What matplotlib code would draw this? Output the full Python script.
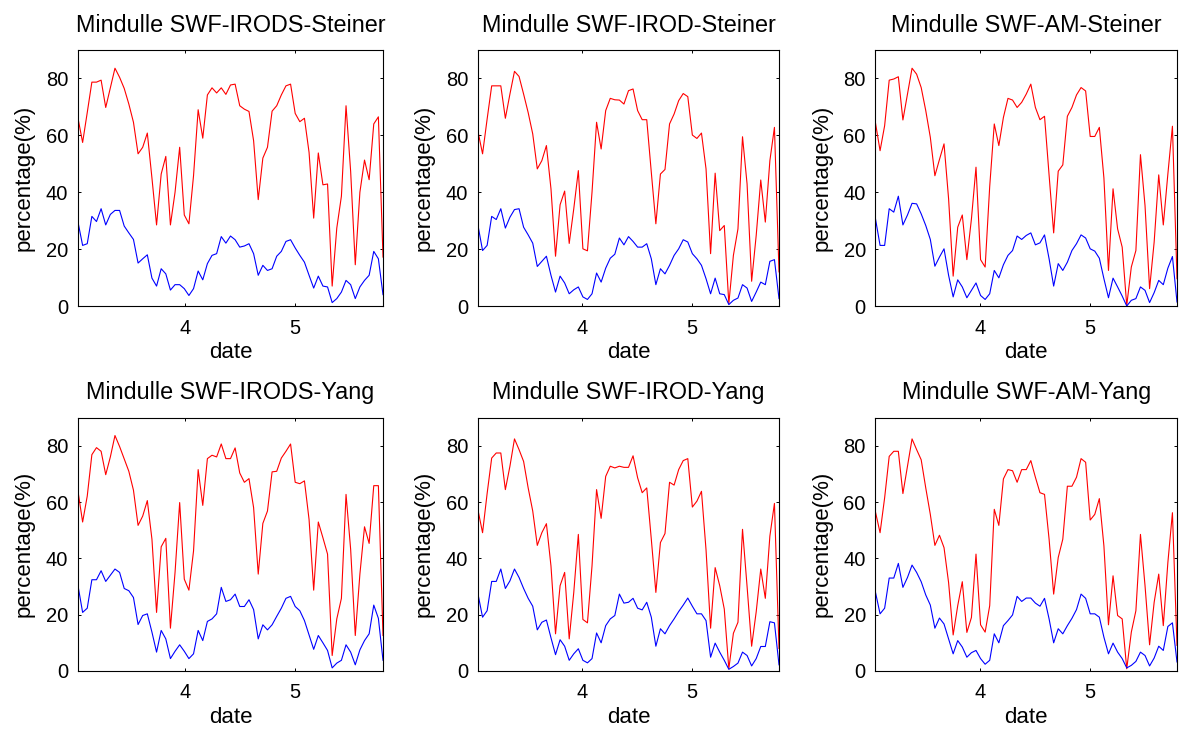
import numpy as np
import matplotlib
matplotlib.use("Agg")
import matplotlib.pyplot as plt

plt.rcParams['font.family'] = ['Liberation Sans', 'DejaVu Sans']

# Time span (days of month) covered by each column of panels
span_irods = (3.015, 5.810)
span_irod = (3.058, 5.791)
span_am = (3.055, 5.791)

titles = [
    "Mindulle SWF-IRODS-Steiner", "Mindulle SWF-IROD-Steiner", "Mindulle SWF-AM-Steiner",
    "Mindulle SWF-IRODS-Yang", "Mindulle SWF-IROD-Yang", "Mindulle SWF-AM-Yang",
]

# Percentage series (red = upper curve, blue = lower curve)
irods_steiner_red = [66, 57.5, 68, 78.7, 78.7, 79.4, 69.8, 76.7, 83.6, 80.4, 76.5, 71, 64.6, 53.5, 55.8,
                     60.8, 45, 28.5, 46.4, 52.6, 28.5, 40, 55.8, 32, 28.9, 45.8, 69, 59, 74.2, 76.7, 74.9,
                     76.7, 74.4, 77.7, 78, 70.4, 69.2, 68.4, 58.1, 37.4, 52, 55.8, 68.5, 70.4, 74.2, 77.4,
                     78, 67.7, 64.8, 66, 54, 30.9, 53.8, 42.6, 42.9, 7, 27.4, 38.6, 70.4, 47.3, 14.5, 40,
                     51.3, 44.4, 64, 66.5, 17.2]
irods_steiner_blue = [29.5, 21.3, 21.9, 31.5, 29.7, 34.2, 28.5, 32.2, 33.6, 33.6, 28.1, 25.7, 23.4, 15.1,
                      16.6, 18, 9.8, 7, 13.1, 11.3, 5.6, 7.5, 7.5, 6.1, 3.7, 6.1, 12.3, 9.2, 14.9, 17.8, 18.4,
                      24.4, 22.1, 24.6, 23.3, 20.7, 21.1, 21.9, 18.4, 10.8, 14.3, 12.5, 13.1, 17.5, 19.2,
                      22.7, 23.3, 20.4, 17.8, 15.4, 10.8, 6.3, 10.5, 7, 6.7, 1.2, 2.6, 4.9, 9, 7.5, 2.6,
                      6.7, 9, 10.8, 19.2, 16.6, 4]

irod_steiner_red = [61.3, 53.5, 65.7, 77.4, 77.4, 77.4, 66, 74.5, 82.5, 80.7, 74.5, 68, 60.5, 48.2, 51.1,
                    56.4, 41.2, 17.5, 35.6, 40.4, 22, 34.2, 47.6, 20.1, 19.4, 40, 64.6, 55.2, 68.7, 73,
                    72.5, 72.4, 71, 75.7, 76.3, 68.7, 65.5, 65.5, 47, 28.9, 46.4, 48, 64, 67.5, 72.2, 74.7,
                    73.6, 60.1, 58.9, 60.8, 48.2, 18.4, 46.7, 26.5, 28.3, 0.8, 17.8, 27.1, 59.5, 42.9, 8.7,
                    24.8, 44.3, 29.5, 51.1, 62.8, 12]
irod_steiner_blue = [28.3, 19.5, 21.3, 31.5, 30.4, 34.2, 27.4, 31.2, 33.9, 34.2, 27.7, 25, 22.1, 13.9,
                     15.7, 17.5, 10.8, 4.9, 10.5, 8.1, 4.3, 5.7, 6.7, 3.2, 2.3, 4.3, 11.6, 8.4, 13.3, 16.8,
                     18.2, 23.9, 21.5, 24.4, 22.7, 20.7, 20.7, 21.9, 16.6, 7.5, 13.1, 11.3, 14.3, 17.8,
                     20.1, 23.3, 22.5, 18.4, 16.6, 14.3, 9.6, 4.3, 9.8, 4.3, 4, 0.5, 2, 2.8, 7.5, 6.3,
                     1.6, 4.9, 8.4, 7.5, 15.7, 16.3, 2.6]

am_steiner_red = [64.3, 54.6, 63.4, 79.4, 79.8, 80.6, 65.4, 74.5, 83.6, 81.5, 76.8, 68.7, 59.3, 45.8, 51.5,
                  57, 37.7, 10.5, 27.7, 32, 16.3, 30.6, 48.8, 16.3, 13.7, 42, 64, 56.4, 66.3, 73, 72.4,
                  69.8, 71.6, 74.5, 78, 69.8, 65.5, 66.7, 46, 25.7, 47.4, 49.6, 66.7, 69.8, 74.2, 76.8,
                  75.6, 59.6, 59.6, 62.8, 45, 12.5, 41.2, 27.1, 20.7, 0.2, 13.7, 19.5, 53.2, 35.3, 6.1,
                  22.5, 46.1, 28.5, 46.4, 63.2, 9.6]
am_steiner_blue = [30.6, 21.3, 21.3, 34.2, 33, 38.6, 28.5, 32, 36.1, 35.9, 32.4, 28.3, 23.4, 14, 17.2,
                   20.1, 10.8, 3.2, 9.2, 6.7, 2.9, 5.5, 8.1, 3.7, 2.3, 4.3, 12.5, 9.9, 14.5, 17.8, 19.5,
                   24.6, 23.4, 24.8, 25.7, 21.5, 22.2, 25, 16.6, 7, 14.9, 12.5, 15.4, 19.5, 21.9, 25,
                   23.9, 20.1, 19.3, 16.8, 9.6, 2.9, 9.8, 6.7, 3.5, 0, 2, 2.6, 6.7, 5.5, 1.2, 4.7, 9,
                   7.5, 13.3, 17.4, 1.4]

irods_yang_red = [63.8, 52.9, 62.1, 76.8, 79.3, 78, 69.7, 76, 83.6, 79.7, 75.3, 70.9, 64.2, 51.7, 55,
                  60.5, 46.8, 20.8, 44.1, 47.1, 15.2, 35, 59.8, 32.6, 28.7, 42.6, 71.5, 58.8, 75.4, 76.6,
                  76, 80.6, 75.4, 75.4, 79.2, 70.3, 67, 68.3, 58, 34.4, 52.4, 56.8, 70.7, 70.9, 75.6, 78,
                  80.6, 67, 66.5, 67.5, 53.8, 28.7, 52.9, 47.3, 41.5, 5.5, 18.5, 25.8, 62.7, 43.2, 12.6,
                  34.4, 51.2, 45.3, 65.8, 65.8, 12.6]
irods_yang_blue = [30.3, 20.8, 22.3, 32.4, 32.4, 35.6, 31.8, 34, 36.2, 35, 29.3, 28.5, 26.1, 16.5, 19.7,
                   20.3, 13.8, 6.7, 14.4, 11.4, 4.4, 7, 9.3, 7, 4.4, 6.1, 14.4, 10.8, 17.6, 18.5, 20.3,
                   29.7, 24.7, 25.3, 27.3, 22.9, 22.9, 25.3, 21.8, 11.4, 16.4, 14.6, 16.4, 19.4, 22.3,
                   25.8, 26.5, 22.9, 21.4, 17.9, 12.8, 7.7, 12.6, 10, 7.3, 1.1, 2.8, 3.8, 9.3, 6.7, 2.2,
                   7.5, 10.8, 13.2, 23.4, 18.7, 3.8]

irod_yang_red = [57.1, 49.1, 63, 75.6, 77.4, 77.4, 64.4, 72.7, 82.4, 78.6, 74.4, 65, 56.8, 44.6, 49.1,
                 52.3, 37.3, 13.2, 30.3, 35, 11.4, 27.9, 48.5, 18.3, 17.1, 37.3, 64.4, 54.2, 69.1, 72.7,
                 72.1, 72.7, 72.3, 72.3, 76.4, 68.6, 63.3, 65, 46.8, 27.9, 45.6, 48.8, 67, 66, 71.5, 74.7,
                 75.4, 58.2, 60.3, 63.8, 43, 15.2, 36.7, 30.3, 22, 0.8, 13.4, 17.3, 50.3, 30, 8.8, 21,
                 36.2, 25.8, 47.9, 59.5, 8]
irod_yang_blue = [27.3, 19.1, 21.4, 31.8, 31.8, 36.2, 29.3, 32, 36.2, 33.2, 29.3, 25.8, 23, 14.6, 17.3,
                  18.1, 11.8, 5.8, 11.1, 8.8, 3.8, 6.1, 7.9, 3.8, 2.9, 4.4, 13.5, 10, 16.1, 18.5, 19.7,
                  27.3, 24.1, 24.4, 25.8, 22.3, 21.7, 24.4, 19.1, 8.8, 15, 13.2, 16.1, 18.5, 21.1, 23.4,
                  25.9, 23, 20.3, 20.3, 17.9, 4.9, 9.9, 6.7, 3.8, 0.6, 1.6, 2.8, 6.7, 5.5, 1.8, 4.4, 8.7,
                  8.7, 17.5, 17.1, 2.2]

am_yang_red = [56.4, 49.1, 61.5, 76.2, 78, 78, 63, 72.7, 82.4, 78.6, 75, 65, 55.6, 44.6, 48.2, 43.8,
               31.4, 12.8, 23.2, 31.7, 13.7, 19, 41.5, 16.4, 13.8, 23.2, 57.4, 51.7, 68.2, 71.5, 71.1, 67,
               71.5, 71.5, 74.7, 68.8, 63.3, 62.7, 46.8, 27.3, 40.3, 46.8, 65.6, 65.6, 68.8, 75.4, 74.1,
               53.6, 55.6, 61.2, 44.4, 16.4, 33.8, 19.7, 18.5, 0.8, 13.8, 21.4, 48.5, 30.3, 9.3, 24.4,
               34.4, 16.1, 38.5, 56.2, 9.1]
am_yang_blue = [27.9, 20.3, 22.3, 33, 33, 38.2, 29.7, 33.2, 37.6, 35, 31.7, 27, 23.4, 15.2, 18.8, 16.7,
                11.4, 6.1, 10.8, 8.5, 4.9, 6.5, 7.3, 4.4, 2.4, 3.8, 13.2, 10, 16.1, 17.9, 19.9, 26.5,
                24.7, 25.9, 25.9, 24.1, 23, 25.8, 18.5, 10, 15, 13.2, 16.1, 18.7, 21.8, 27.3, 25.8, 20.3,
                20.3, 19.1, 12, 6.1, 9.9, 6.7, 4.4, 1.1, 2, 3.4, 6.7, 5.5, 1.8, 4.6, 8.8, 7.3, 15.8,
                17.1, 3.2]

panels = [
    (span_irods, irods_steiner_red, irods_steiner_blue),
    (span_irod, irod_steiner_red, irod_steiner_blue),
    (span_am, am_steiner_red, am_steiner_blue),
    (span_irods, irods_yang_red, irods_yang_blue),
    (span_irod, irod_yang_red, irod_yang_blue),
    (span_am, am_yang_red, am_yang_blue),
]

yticks = [0, 20, 40, 60, 80]
xticks = [4, 5]

W, H = 1179, 737
fig = plt.figure(figsize=(W / 100, H / 100), dpi=100)

# axes boxes in pixels: columns (left, right), rows (top, bottom)
col_px = [(78, 383), (478, 779), (875.5, 1177)]
row_px = [(50, 306), (417.5, 671)]

for k, (span, red, blue) in enumerate(panels):
    r, c = divmod(k, 3)
    x0, x1 = col_px[c]
    y0, y1 = row_px[r]
    ax = fig.add_axes([x0 / W, 1 - y1 / H, (x1 - x0) / W, (y1 - y0) / H])
    t = np.linspace(span[0], span[1], len(red))
    ax.plot(t, red, color='#ff0000', lw=0.8)
    ax.plot(t, blue, color='#0000ff', lw=0.8)
    ax.set_xlim(span[0], span[1])
    ax.set_ylim(0, 90)
    ax.set_xticks(xticks)
    ax.set_yticks(yticks)
    ax.tick_params(direction='in', length=2.5, width=0.7, top=True, right=True,
                   labelsize=14.5, colors='black')
    ax.tick_params(axis='x', pad=9)
    ax.tick_params(axis='y', pad=7)
    for s in ax.spines.values():
        s.set_linewidth(0.8)
        s.set_color('black')
    ax.set_title(titles[k], fontsize=16.8, pad=13)
    ax.set_xlabel('date', fontsize=16, labelpad=3)
    ax.set_ylabel('percentage(%)', fontsize=16, labelpad=8)

fig.savefig('out.png', dpi=100)
